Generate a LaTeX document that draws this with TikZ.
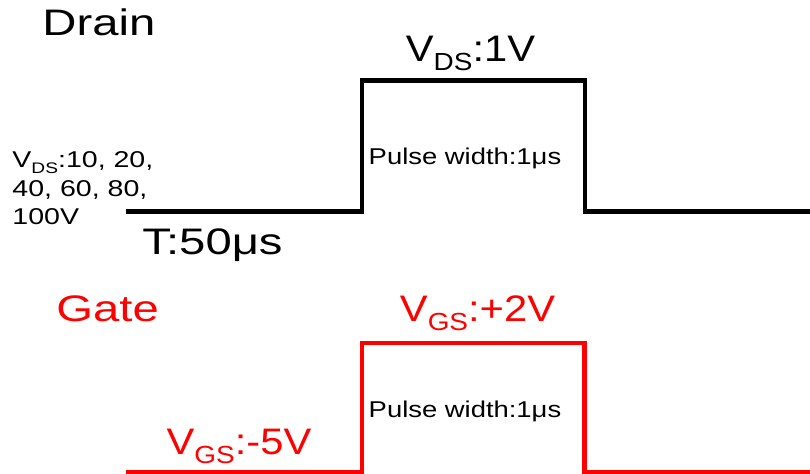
\documentclass[tikz,border=0pt]{standalone}
\usepackage{fontspec}
\setmainfont{Liberation Sans}
\usepackage{tikz}
\usetikzlibrary{positioning}

\newcommand{\lowsub}[1]{\raisebox{-0.23em}{\scalebox{0.67}{#1}}}

\begin{document}
\begin{tikzpicture}[
  pulse/.style={line width=2.4pt, line join=miter},
  biglbl/.style={font=\fontsize{21}{25}\selectfont, inner sep=0pt, xscale=1.28},
  vlbl/.style={biglbl, xscale=1.13/1.28},
  smalllbl/.style={font=\fontsize{13}{16.2}\selectfont, inner sep=0pt, xscale=1.2}
]
\useasboundingbox (0,0) rectangle (16.2,9.48);

%─── Drain pulse ──────────────────────────────────────────────────────────
\node[biglbl, anchor=base west] (drain) at (0.84,8.76) {Drain};
\node[vlbl, anchor=base] (vdshigh) at (9.41,8.24) {V\lowsub{DS}:1V};
\node[smalllbl, anchor=base] (dwidth) at (9.30,6.18) {Pulse width:1μs};
\node[smalllbl, anchor=north west, align=left, xscale=1.25/1.2] (vdslist)
  at (0.24,6.45) {V\lowsub{DS}:10, 20,\\40, 60, 80,\\100V};
\node[biglbl, anchor=base west] (period) at (2.84,4.38) {T:50μs};

\draw[pulse] (2.52,5.25) -- (7.24,5.25) -- (7.24,7.87) -- (11.70,7.87)
  -- (11.70,5.25) -- (16.2,5.25);

%─── Gate pulse ───────────────────────────────────────────────────────────
\node[biglbl, anchor=base west, text=red] (gate) at (1.12,3.04) {Gate};
\node[vlbl, anchor=base, text=red] (vgshigh) at (9.55,3.04) {V\lowsub{GS}:+2V};
\node[smalllbl, anchor=base] (gwidth) at (9.30,1.12) {Pulse width:1μs};
\node[vlbl, anchor=base, text=red] (vgslow) at (4.78,0.38) {V\lowsub{GS}:-5V};

\draw[pulse, red] (2.52,0.04) -- (7.24,0.04) -- (7.24,2.62) -- (11.69,2.62)
  -- (11.69,0.04) -- (16.2,0.04);

\end{tikzpicture}
\end{document}
